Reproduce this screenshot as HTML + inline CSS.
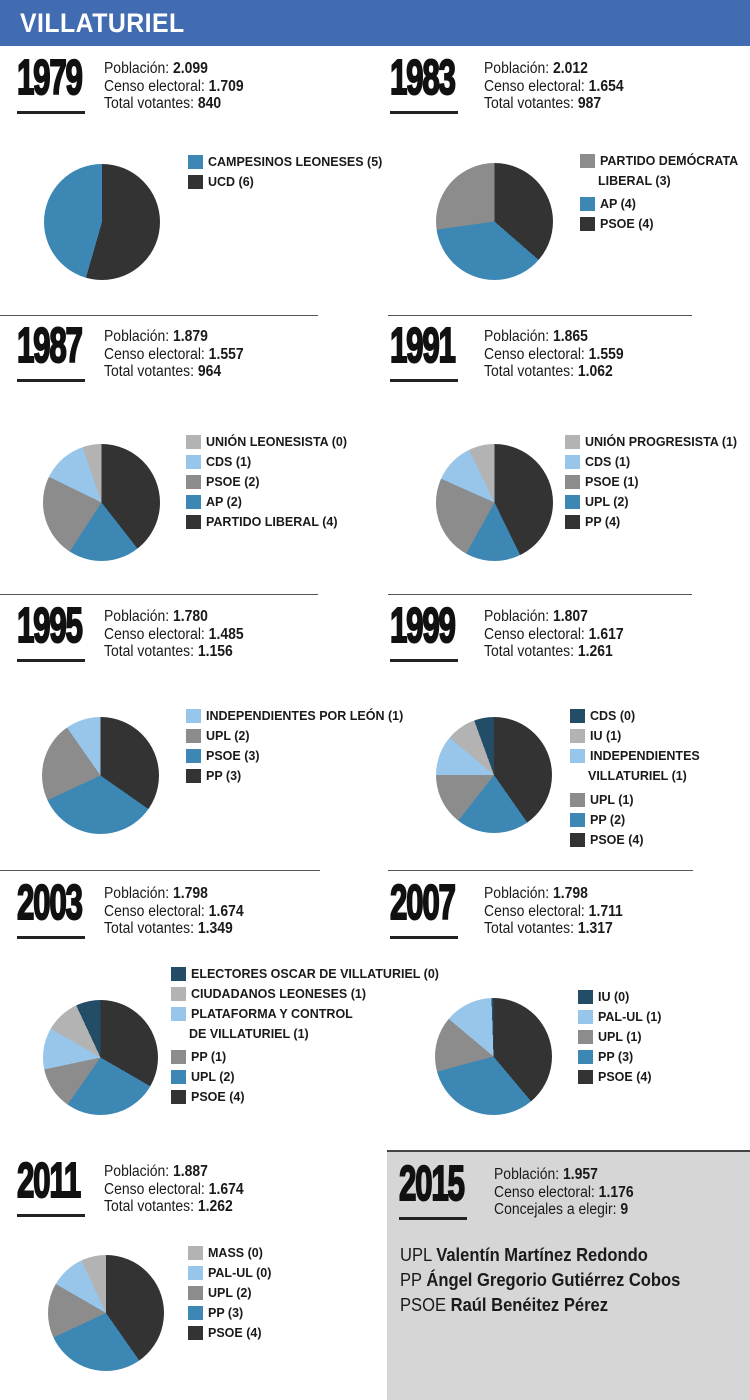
<!DOCTYPE html>
<html><head><meta charset="utf-8"><style>
*{margin:0;padding:0;box-sizing:border-box}
body{width:750px;height:1400px;background:#fff;position:relative;overflow:hidden;font-family:"Liberation Sans",sans-serif;color:#1a1a1a}
.hdr{position:absolute;left:0;top:0;width:750px;height:46px;background:#416cb1;}
.hdr span{position:absolute;left:20px;top:8px;color:#fff;font-weight:bold;font-size:27px;letter-spacing:0.5px;display:inline-block;transform:scaleX(0.92);transform-origin:left}
.sec{position:absolute;width:360px;height:70px}
.yr{position:absolute;left:2px;top:-4px;font-weight:bold;font-size:49px;letter-spacing:-2px;transform:scaleX(0.64);transform-origin:left top;line-height:50px;color:#111;-webkit-text-stroke:2px #111}
.ul{position:absolute;left:2px;top:54px;width:68px;height:3px;background:#222}
.st{position:absolute;left:89px;top:3px;font-size:15.5px;line-height:17.5px;transform:scaleX(0.9);transform-origin:left top;white-space:nowrap}
.st b{font-weight:bold}
.hl{position:absolute;height:1px;background:#555}
.pie{position:absolute;border-radius:50%}
.lg{position:absolute;font-weight:bold;font-size:12.5px;white-space:nowrap}
.lg div{height:20px;position:relative;padding-left:20px;line-height:14px}
.lg div i{position:absolute;left:0;top:0;width:15px;height:14px}
.lg div.nb{padding-left:18px}
.box{position:absolute;left:387px;top:1150px;width:363px;height:250px;background:#d6d6d6;border-top:2px solid #444}
.names{position:absolute;left:400px;top:1243px;font-size:18px;line-height:25px;transform:scaleX(0.92);transform-origin:left top;white-space:nowrap}
</style></head><body>
<div class="hdr"><span>VILLATURIEL</span></div>

<div class="hl" style="left:0;top:315px;width:318px"></div>
<div class="hl" style="left:388px;top:315px;width:304px"></div>
<div class="hl" style="left:0;top:594px;width:318px"></div>
<div class="hl" style="left:388px;top:594px;width:304px"></div>
<div class="hl" style="left:0;top:870px;width:320px"></div>
<div class="hl" style="left:388px;top:870px;width:305px"></div>

<!-- 1979 -->
<div class="sec" style="left:15px;top:57px"><div class="yr">1979</div><div class="ul"></div>
<div class="st">Población: <b>2.099</b><br>Censo electoral: <b>1.709</b><br>Total votantes: <b>840</b></div></div>
<div class="pie" style="left:44px;top:164px;width:116px;height:116px;background:conic-gradient(#333 0 196deg,#3d87b4 196deg 360deg)"></div>
<div class="lg" style="left:188px;top:155px"><div><i style="background:#3d87b4"></i>CAMPESINOS LEONESES (5)</div><div><i style="background:#333"></i>UCD (6)</div></div>

<!-- 1983 -->
<div class="sec" style="left:388px;top:57px"><div class="yr">1983</div><div class="ul"></div>
<div class="st" style="left:96px">Población: <b>2.012</b><br>Censo electoral: <b>1.654</b><br>Total votantes: <b>987</b></div></div>
<div class="pie" style="left:436px;top:163px;width:117px;height:117px;background:conic-gradient(#333 0 131deg,#3d87b4 131deg 262deg,#8c8c8c 262deg 360deg)"></div>
<div class="lg" style="left:580px;top:154px"><div><i style="background:#8c8c8c"></i>PARTIDO DEMÓCRATA</div><div class="nb" style="height:23px">LIBERAL (3)</div><div><i style="background:#3d87b4"></i>AP (4)</div><div><i style="background:#333"></i>PSOE (4)</div></div>

<!-- 1987 -->
<div class="sec" style="left:15px;top:325px"><div class="yr">1987</div><div class="ul"></div>
<div class="st">Población: <b>1.879</b><br>Censo electoral: <b>1.557</b><br>Total votantes: <b>964</b></div></div>
<div class="pie" style="left:43px;top:444px;width:117px;height:117px;background:conic-gradient(#333 0 142deg,#3d87b4 142deg 213deg,#8c8c8c 213deg 296deg,#98c6ea 296deg 341deg,#b3b3b3 341deg 360deg)"></div>
<div class="lg" style="left:186px;top:435px"><div><i style="background:#b3b3b3"></i>UNIÓN LEONESISTA (0)</div><div><i style="background:#98c6ea"></i>CDS (1)</div><div><i style="background:#8c8c8c"></i>PSOE (2)</div><div><i style="background:#3d87b4"></i>AP (2)</div><div><i style="background:#333"></i>PARTIDO LIBERAL (4)</div></div>

<!-- 1991 -->
<div class="sec" style="left:388px;top:325px"><div class="yr">1991</div><div class="ul"></div>
<div class="st" style="left:96px">Población: <b>1.865</b><br>Censo electoral: <b>1.559</b><br>Total votantes: <b>1.062</b></div></div>
<div class="pie" style="left:436px;top:444px;width:117px;height:117px;background:conic-gradient(#333 0 154deg,#3d87b4 154deg 209deg,#8c8c8c 209deg 294deg,#98c6ea 294deg 334deg,#b3b3b3 334deg 360deg)"></div>
<div class="lg" style="left:565px;top:435px"><div><i style="background:#b3b3b3"></i>UNIÓN PROGRESISTA (1)</div><div><i style="background:#98c6ea"></i>CDS (1)</div><div><i style="background:#8c8c8c"></i>PSOE (1)</div><div><i style="background:#3d87b4"></i>UPL (2)</div><div><i style="background:#333"></i>PP (4)</div></div>

<!-- 1995 -->
<div class="sec" style="left:15px;top:605px"><div class="yr">1995</div><div class="ul"></div>
<div class="st">Población: <b>1.780</b><br>Censo electoral: <b>1.485</b><br>Total votantes: <b>1.156</b></div></div>
<div class="pie" style="left:42px;top:717px;width:117px;height:117px;background:conic-gradient(#333 0 125deg,#3d87b4 125deg 245deg,#8c8c8c 245deg 325deg,#98c6ea 325deg 360deg)"></div>
<div class="lg" style="left:186px;top:709px"><div><i style="background:#98c6ea"></i>INDEPENDIENTES POR LEÓN (1)</div><div><i style="background:#8c8c8c"></i>UPL (2)</div><div><i style="background:#3d87b4"></i>PSOE (3)</div><div><i style="background:#333"></i>PP (3)</div></div>

<!-- 1999 -->
<div class="sec" style="left:388px;top:605px"><div class="yr">1999</div><div class="ul"></div>
<div class="st" style="left:96px">Población: <b>1.807</b><br>Censo electoral: <b>1.617</b><br>Total votantes: <b>1.261</b></div></div>
<div class="pie" style="left:436px;top:717px;width:116px;height:116px;background:conic-gradient(#333 0 145deg,#3d87b4 145deg 218deg,#8c8c8c 218deg 270deg,#98c6ea 270deg 310deg,#b3b3b3 310deg 340deg,#234d66 340deg 360deg)"></div>
<div class="lg" style="left:570px;top:709px"><div><i style="background:#234d66"></i>CDS (0)</div><div><i style="background:#b3b3b3"></i>IU (1)</div><div><i style="background:#98c6ea"></i>INDEPENDIENTES</div><div class="nb" style="height:24px">VILLATURIEL (1)</div><div><i style="background:#8c8c8c"></i>UPL (1)</div><div><i style="background:#3d87b4"></i>PP (2)</div><div><i style="background:#333"></i>PSOE (4)</div></div>

<!-- 2003 -->
<div class="sec" style="left:15px;top:882px"><div class="yr">2003</div><div class="ul"></div>
<div class="st">Población: <b>1.798</b><br>Censo electoral: <b>1.674</b><br>Total votantes: <b>1.349</b></div></div>
<div class="pie" style="left:43px;top:1000px;width:115px;height:115px;background:conic-gradient(#333 0 120deg,#3d87b4 120deg 215deg,#8c8c8c 215deg 258deg,#98c6ea 258deg 300deg,#b3b3b3 300deg 335deg,#234d66 335deg 360deg)"></div>
<div class="lg" style="left:171px;top:967px"><div><i style="background:#234d66"></i>ELECTORES OSCAR DE VILLATURIEL (0)</div><div><i style="background:#b3b3b3"></i>CIUDADANOS LEONESES (1)</div><div><i style="background:#98c6ea"></i>PLATAFORMA Y CONTROL</div><div class="nb" style="height:23px">DE VILLATURIEL (1)</div><div><i style="background:#8c8c8c"></i>PP (1)</div><div><i style="background:#3d87b4"></i>UPL (2)</div><div><i style="background:#333"></i>PSOE (4)</div></div>

<!-- 2007 -->
<div class="sec" style="left:388px;top:882px"><div class="yr">2007</div><div class="ul"></div>
<div class="st" style="left:96px">Población: <b>1.798</b><br>Censo electoral: <b>1.711</b><br>Total votantes: <b>1.317</b></div></div>
<div class="pie" style="left:435px;top:998px;width:117px;height:117px;background:conic-gradient(#333 0 140deg,#3d87b4 140deg 255deg,#8c8c8c 255deg 310deg,#98c6ea 310deg 358deg,#234d66 358deg 360deg)"></div>
<div class="lg" style="left:578px;top:990px"><div><i style="background:#234d66"></i>IU (0)</div><div><i style="background:#98c6ea"></i>PAL-UL (1)</div><div><i style="background:#8c8c8c"></i>UPL (1)</div><div><i style="background:#3d87b4"></i>PP (3)</div><div><i style="background:#333"></i>PSOE (4)</div></div>

<!-- 2011 -->
<div class="sec" style="left:15px;top:1160px"><div class="yr">2011</div><div class="ul"></div>
<div class="st">Población: <b>1.887</b><br>Censo electoral: <b>1.674</b><br>Total votantes: <b>1.262</b></div></div>
<div class="pie" style="left:48px;top:1255px;width:116px;height:116px;background:conic-gradient(#333 0 145deg,#3d87b4 145deg 245deg,#8c8c8c 245deg 300deg,#98c6ea 300deg 335deg,#b3b3b3 335deg 360deg)"></div>
<div class="lg" style="left:188px;top:1246px"><div><i style="background:#b3b3b3"></i>MASS (0)</div><div><i style="background:#98c6ea"></i>PAL-UL (0)</div><div><i style="background:#8c8c8c"></i>UPL (2)</div><div><i style="background:#3d87b4"></i>PP (3)</div><div><i style="background:#333"></i>PSOE (4)</div></div>

<!-- 2015 -->
<div class="box"></div>
<div class="sec" style="left:397px;top:1163px"><div class="yr">2015</div><div class="ul"></div>
<div class="st" style="left:97px">Población: <b>1.957</b><br>Censo electoral: <b>1.176</b><br>Concejales a elegir: <b>9</b></div></div>
<div class="names">UPL <b>Valentín Martínez Redondo</b><br>PP <b>Ángel Gregorio Gutiérrez Cobos</b><br>PSOE <b>Raúl Benéitez Pérez</b></div>
</body></html>
